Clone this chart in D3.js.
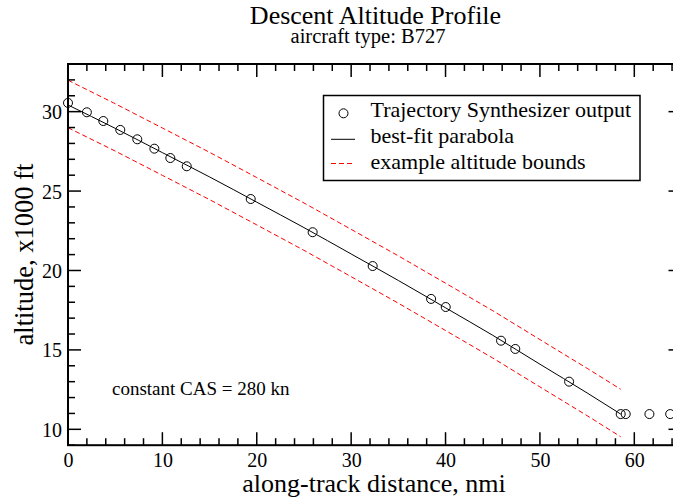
<!DOCTYPE html>
<html><head><meta charset="utf-8">
<script src="https://cdn.jsdelivr.net/npm/d3@7"></script>
<style>body{margin:0;background:#fff;overflow:hidden}svg{display:block}text{font-family:"Liberation Serif","Times New Roman",serif;fill:#000}</style>
</head><body><svg id="c" width="673" height="501"></svg>
<script>
// Trajectory Synthesizer output (nmi, x1000 ft)
const distances = [0, 2.0, 3.74, 5.54, 7.34, 9.15, 10.84, 12.58, 19.36, 25.92, 32.28, 38.47, 40.02, 45.88, 47.39, 53.09, 58.56, 59.09, 61.6, 63.8];
const altitudes = [30.55, 29.96, 29.41, 28.85, 28.26, 27.67, 27.08, 26.56, 24.50, 22.41, 20.28, 18.21, 17.70, 15.58, 15.06, 13.00, 10.96, 10.96, 10.96, 10.96];
// best-fit parabola, read at points along the curve
const fitX = [0, 5, 10, 15, 20, 25, 30, 35, 40, 45, 50, 55, 58.56];
const fitY = [30.42, 28.95, 27.42, 25.89, 24.30, 22.70, 21.04, 19.37, 17.65, 15.92, 14.10, 12.29, 10.96];
// example altitude bounds
const upperY = [31.98, 30.50, 28.97, 27.44, 25.85, 24.25, 22.59, 20.92, 19.20, 17.47, 15.65, 13.84, 12.52];
const lowerY = [28.99, 27.52, 25.99, 24.46, 22.87, 21.27, 19.61, 17.94, 16.22, 14.49, 12.67, 10.86, 9.53];
const xTicks = [0, 10, 20, 30, 40, 50, 60];
const yTicks = [10, 15, 20, 25, 30];
const legendLabels = ["Trajectory Synthesizer output", "best-fit parabola", "example altitude bounds"];

const svg = d3.select("#c");
const L = 68, R = 681.5, T = 64, B = 445.2;
const x = d3.scaleLinear().domain([0, 65]).range([L, R]);
const y = d3.scaleLinear().domain([9, 33]).range([B, T]);

// title
svg.append("text").attr("x", 375.5).attr("y", 24).attr("text-anchor", "middle").style("font-size", "26px").text("Descent Altitude Profile");
svg.append("text").attr("x", 368).attr("y", 42.5).attr("text-anchor", "middle").style("font-size", "20.5px").text("aircraft type: B727");

// data lines
const line = d3.line().x(d => x(d[0])).y(d => y(d[1]));
const g = svg.append("g");
g.append("path").datum(fitX.map((v, i) => [v, upperY[i]])).attr("d", line)
  .attr("fill", "none").attr("stroke", "#ff0000").attr("stroke-width", 1).attr("stroke-dasharray", "5,3");
g.append("path").datum(fitX.map((v, i) => [v, lowerY[i]])).attr("d", line)
  .attr("fill", "none").attr("stroke", "#ff0000").attr("stroke-width", 1).attr("stroke-dasharray", "5,3");
g.append("path").datum(fitX.map((v, i) => [v, fitY[i]])).attr("d", line.curve(d3.curveMonotoneX))
  .attr("fill", "none").attr("stroke", "#000").attr("stroke-width", 1);
g.selectAll("circle.pt").data(distances.map((v, i) => [v, altitudes[i]])).join("circle")
  .attr("class", "pt").attr("cx", d => x(d[0])).attr("cy", d => y(d[1])).attr("r", 4.5)
  .attr("fill", "none").attr("stroke", "#000").attr("stroke-width", 1);

// axes with inward ticks on all sides
const major = 13, minor = 7;
const ax = svg.append("g").attr("stroke", "#000").attr("stroke-width", 1.5);
const xMinor = d3.range(0, 65.01, 2);
const yMinor = d3.range(9, 33.01, 1);
xMinor.forEach(v => {
  const len = (v % 10 === 0) ? major : minor;
  ax.append("line").attr("x1", x(v)).attr("x2", x(v)).attr("y1", B).attr("y2", B - len);
  ax.append("line").attr("x1", x(v)).attr("x2", x(v)).attr("y1", T).attr("y2", T + len);
});
yMinor.forEach(v => {
  const len = (v % 5 === 0) ? major : minor;
  ax.append("line").attr("x1", L).attr("x2", L + len).attr("y1", y(v)).attr("y2", y(v));
  ax.append("line").attr("x1", R).attr("x2", R - len).attr("y1", y(v)).attr("y2", y(v));
});
ax.append("rect").attr("x", L).attr("y", T).attr("width", R - L).attr("height", B - T).attr("fill", "none").attr("stroke-width", 2);

// tick labels via d3 axes (hidden lines)
const xa = svg.append("g").attr("transform", `translate(0,${B})`)
  .call(d3.axisBottom(x).tickValues(xTicks).tickSize(0).tickPadding(22).tickFormat(d3.format("d")));
const ya = svg.append("g").attr("transform", `translate(${L},0)`)
  .call(d3.axisLeft(y).tickValues(yTicks).tickSize(0).tickPadding(6).tickFormat(d3.format("d")));
[xa, ya].forEach(a => { a.select(".domain").remove(); a.selectAll("text").style("font-family", '"Liberation Serif",serif').style("font-size", "20px").attr("fill", "#000"); });
xa.selectAll("text").attr("dy", 0);
ya.selectAll("text").attr("dy", "0.35em");

// axis labels
svg.append("text").attr("x", 374).attr("y", 492).attr("text-anchor", "middle").style("font-size", "26px").text("along-track distance, nmi");
svg.append("text").attr("transform", `translate(33,${(T + B) / 2}) rotate(-90)`).attr("text-anchor", "middle").style("font-size", "26.5px").text("altitude, x1000 ft");

// annotation
svg.append("text").attr("x", 112).attr("y", 395).style("font-size", "19px").text("constant CAS = 280 kn");

// legend
const lg = svg.append("g");
lg.append("rect").attr("x", 323.5).attr("y", 95.5).attr("width", 316.5).attr("height", 85).attr("fill", "#fff").attr("stroke", "#000").attr("stroke-width", 1.5);
const rows = [113.3, 139.3, 163.5];
lg.append("circle").attr("cx", 343.5).attr("cy", rows[0]).attr("r", 4.5).attr("fill", "none").attr("stroke", "#000");
lg.append("line").attr("x1", 331).attr("x2", 355).attr("y1", rows[1]).attr("y2", rows[1]).attr("stroke", "#000");
lg.append("line").attr("x1", 331).attr("x2", 355).attr("y1", rows[2]).attr("y2", rows[2]).attr("stroke", "#ff0000").attr("stroke-dasharray", "5,3");
const baselines = [117, 143, 168.5];
legendLabels.forEach((t, i) => lg.append("text").attr("x", 370.5).attr("y", baselines[i]).style("font-size", "22px").text(t));
</script></body></html>
